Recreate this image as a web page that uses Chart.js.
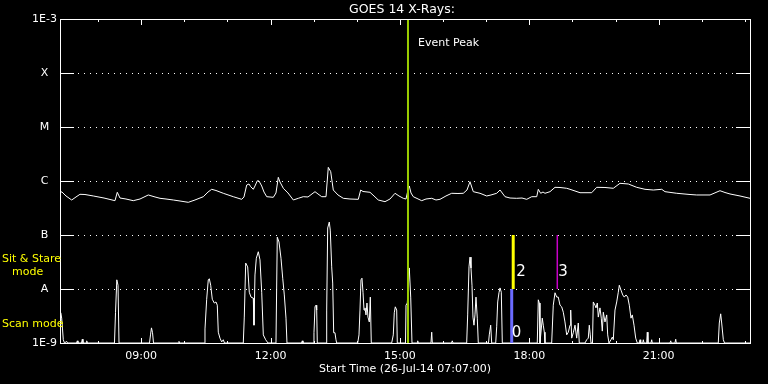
<!DOCTYPE html>
<html><head><meta charset="utf-8">
<script src="https://cdn.jsdelivr.net/npm/chart.js@4"></script>
<style>html,body{margin:0;padding:0;background:#000;}canvas{display:block;}</style>
</head><body>
<canvas id="c" width="768" height="384"></canvas>
<script>
// ---- data ----
const titleText = 'GOES 14 X-Rays:';
const startLabel = 'Start Time (26-Jul-14 07:07:00)';
const startHour = 7.1167;   // 07:07
const endHour = 23.1167;
const hourTicks = [8,9,10,11,12,13,14,15,16,17,18,19,20,21,22,23];
const labelledHours = [9,12,15,18,21];
const levelValues = [1e-9,1e-8,1e-7,1e-6,1e-5,1e-4,1e-3];
const levelLabels = ['1E-9','A','B','C','M','X','1E-3'];
const gridLevels = [1e-8,1e-7,1e-6,1e-5,1e-4];

// GOES 1-8 A flux (time in decimal hours, flux in units of 1e-7 W/m^2)
const goesTimes = [
 7.117,7.163,7.256,7.388,7.488,7.580,7.696,7.889,8.137,8.392,
 8.445,8.508,8.647,8.816,8.972,9.164,9.320,9.436,9.575,9.744,
 9.900,10.092,10.247,10.440,10.549,10.634,10.734,10.903,11.135,11.330,
 11.383,11.446,11.499,11.539,11.599,11.638,11.692,11.731,11.794,11.847,
 11.910,12.063,12.125,12.179,12.218,12.295,12.404,12.527,12.643,12.758,
 12.867,13.030,13.099,13.185,13.285,13.338,13.394,13.454,13.563,13.686,
 13.841,14.034,14.089,14.143,14.305,14.398,14.497,14.653,14.769,14.885,
 14.977,15.077,15.140,15.186,15.216,15.256,15.309,15.504,15.604,15.736,
 15.835,15.928,16.067,16.199,16.345,16.468,16.554,16.624,16.700,16.856,
 17.011,17.111,17.243,17.320,17.436,17.552,17.707,17.830,17.939,18.055,
 18.171,18.208,18.263,18.317,18.363,18.479,18.595,18.711,18.866,18.943,
 19.059,19.175,19.446,19.562,19.754,19.947,20.102,20.295,20.489,20.682,
 20.875,21.070,21.146,21.418,21.726,21.881,22.190,22.421,22.537,22.653,
 22.885,23.117];
const goesFluxE7 = [
 6.34,6.25,5.28,4.45,5.06,5.67,5.62,5.28,4.84,4.32,
 6.18,4.84,4.64,4.32,4.64,5.51,5.06,4.78,4.64,4.45,
 4.26,4.03,4.45,5.12,6.25,7.02,6.67,5.92,5.12,4.58,
 5.06,8.43,8.80,7.84,7.02,8.08,10.1,10.0,8.08,6.25,
 5.12,4.99,6.00,11.7,9.58,7.33,6.00,4.45,4.78,5.12,
 5.06,6.34,5.75,5.12,5.12,17.9,14.9,6.81,5.51,4.78,
 4.64,4.58,6.81,6.39,6.18,5.28,4.45,4.14,4.64,5.92,
 5.28,4.78,4.64,6.81,8.08,6.00,5.12,4.32,4.64,4.78,
 4.45,4.58,5.28,5.92,5.87,5.92,6.81,9.70,6.34,5.92,
 5.28,5.51,5.92,6.81,5.12,4.84,4.78,4.84,4.58,5.12,
 5.12,7.02,5.92,6.25,5.92,6.34,7.64,7.58,7.33,7.02,
 6.53,6.07,6.07,7.64,7.58,7.33,9.06,8.80,7.64,7.02,
 6.81,7.02,6.34,5.92,5.62,5.51,5.51,6.61,6.12,5.75,
 5.28,4.78];

// lower trace (instrument activity), in units where 1 = A level, 2 = B level
const lowerTimes = [
 7.121,7.133,7.156,7.175,7.193,7.221,7.272,7.291,7.499,7.518,7.534,7.615,7.634,7.650,7.720,7.736,7.754,
 8.380,8.404,8.434,8.462,8.485,
 9.192,9.215,9.238,9.262,9.285,
 9.864,9.876,9.888,
 10.467,10.479,10.518,10.555,10.579,10.611,10.648,10.695,10.734,10.764,10.787,10.826,10.866,10.903,10.931,
 11.367,11.390,11.423,11.469,11.506,11.546,11.599,11.615,11.638,11.669,11.715,11.754,11.794,11.831,11.886,11.940,
 12.125,12.155,12.195,12.241,12.281,12.318,12.357,12.380,
 12.716,12.735,12.751,
 12.990,13.006,13.030,13.053,13.069,13.083,
 13.285,13.301,13.324,13.361,13.384,13.417,13.440,13.463,13.493,13.516,13.533,
 14.020,14.050,14.073,14.096,14.119,14.143,14.166,14.189,14.212,14.235,14.258,14.289,14.312,14.335,
 14.808,14.845,14.868,14.892,14.924,14.938,
 15.128,15.140,15.170,15.198,15.216,15.249,15.279,
 15.395,15.411,15.425,
 15.719,15.736,15.750,
 16.195,16.213,16.230,
 16.547,16.570,16.601,16.624,16.647,16.670,16.693,16.716,16.739,16.763,16.793,16.816,
 17.053,17.071,17.104,17.127,
 17.220,17.243,17.266,17.296,17.320,17.350,17.373,
 18.184,18.208,18.231,18.247,18.300,18.323,18.347,18.363,
 18.518,18.555,18.595,18.634,18.671,18.711,18.750,18.787,18.826,18.866,18.903,18.943,18.959,18.982,19.019,19.059,19.098,19.135,19.158,
 19.290,19.330,19.367,19.390,19.413,19.430,
 19.464,19.483,19.522,19.545,19.576,19.599,19.638,19.668,19.692,19.715,19.754,19.794,19.817,19.847,19.893,19.924,19.947,
 19.986,20.026,20.063,20.086,20.125,20.165,20.202,20.241,20.281,20.318,20.357,20.387,20.427,20.466,20.503,
 20.550,20.566,20.582,20.629,20.643,20.659,20.721,20.735,20.751,20.821,20.837,20.851,
 21.261,21.278,21.292,21.377,21.394,21.408,
 22.381,22.405,22.437,22.460,22.498,22.526,23.117];
const lowerValues = [
 0.41,0.56,0.46,0.26,0.06,0,0.03,0,0,0.04,0,0,0.07,0,0,0.04,0,
 0,0.56,1.17,1.07,0,
 0,0.15,0.28,0.19,0,
 0,0.03,0,
 0,0.26,0.81,1.17,1.19,1.07,0.81,0.74,0.76,0.70,0.20,0.09,0.02,0.06,0,
 0,0.48,1.48,1.41,0.94,0.85,0.83,0.33,1.26,1.57,1.69,1.54,0.94,0.15,0.06,0,
 0,1.96,1.87,1.57,1.20,0.89,0.46,0,
 0,0.04,0,
 0,0.19,0.67,0.70,0.61,0,
 0,0.61,2.13,2.24,2.09,1.41,1.11,0.19,0.19,0.06,0,
 0,0.15,0.61,1.17,1.20,0.94,0.61,0.65,0.52,0.74,0.48,0.39,0.85,0,
 0,0.15,0.56,0.67,0.61,0,
 0,0.70,0.74,1.11,1.39,0.85,0,
 0,0.04,0,
 0,0.20,0,
 0,0.04,0,
 0,0.52,1.41,1.59,1.39,1.07,0.48,0.33,0.52,0.85,0.46,0,
 0,0.15,0.33,0,
 0,0.30,0.76,0.93,1.02,0.94,0,
 0,0.80,0.74,0,0.46,0.33,0.20,0,
 0,0.70,0.93,0.85,0.85,0.70,0.67,0.57,0.39,0.15,0.20,0.33,0.61,0.09,0.19,0.33,0.09,0.37,0,
 0,0.06,0.09,0.33,0.15,0,
 0,0.76,0.70,0.65,0.74,0.48,0.65,0.46,0.22,0.57,0.39,0.52,0.15,0,0.06,0.11,0.06,
 0.61,0.76,0.94,1.07,0.98,0.89,0.85,0.89,0.85,0.70,0.46,0.52,0.33,0.09,0,
 0,0.06,0,0,0.06,0,0,0.20,0,0,0.06,0,
 0,0.04,0,0,0.07,0,
 0,0.37,0.54,0.37,0.06,0,0];

// event peak and observing-mode markers
const eventPeakTime = 15.186;
const eventPeakText = 'Event Peak';
const markerNames = ['0','2','3'];
const markerTimes = [17.591, 17.626, 18.648];
const markerLow = [1e-9, 1e-8, 1e-8];
const markerHigh = [1e-8, 1e-7, 1e-7];
const modeTexts = ['Sit & Stare', 'mode', 'Scan mode'];

// ---- styles ----
const FONT = 'DejaVu Sans';
const markerColors = ['#6b6bff', '#ffff00', '#c800c8'];
const markerWidths = [3, 3, 1.5];
const markerLabelFlux = [1.53e-9, 2.07e-8, 2.07e-8];
const markerLabelDx = [0, 3, 1];
const modeTextFlux = [3.6e-8, 2.07e-8, 2.25e-9];
const modeTextX = [2, 12, 2];

const pts = (xs, ys, k) => xs.map((t, i) => ({x: t, y: ys[i] * k}));

const datasets = [];
datasets.push({data: [{x: eventPeakTime, y: 1e-9}, {x: eventPeakTime, y: 1e-3}],
  borderColor: '#9acd00', borderWidth: 2, yAxisID: 'y'});
markerTimes.forEach((t, i) => datasets.push({
  data: [{x: t, y: markerLow[i]}, {x: t, y: markerHigh[i]}],
  borderColor: markerColors[i], borderWidth: markerWidths[i], yAxisID: 'y'}));
datasets.push({data: pts(goesTimes, goesFluxE7, 1e-7), borderColor: '#ffffff', borderWidth: 1, yAxisID: 'y'});
datasets.push({data: pts(lowerTimes, lowerValues, 1), borderColor: '#ffffff', borderWidth: 1, yAxisID: 'y2'});

const framePlugin = {
  id: 'frame',
  beforeDatasetsDraw(chart) {
    const {ctx, chartArea: a, scales: {y}} = chart;
    ctx.save();
    ctx.strokeStyle = '#ffffff';
    ctx.lineWidth = 1;
    ctx.setLineDash([1, 5]);
    gridLevels.forEach(v => {
      const py = Math.round(y.getPixelForValue(v)) + 0.5;
      ctx.beginPath(); ctx.moveTo(a.left + 18, py); ctx.lineTo(a.right - 14, py); ctx.stroke();
    });
    ctx.restore();
  },
  afterDraw(chart) {
    const {ctx, chartArea: a, scales: {x, y}} = chart;
    ctx.save();
    ctx.strokeStyle = '#ffffff';
    ctx.lineWidth = 1;
    ctx.strokeRect(a.left + 0.5, a.top + 0.5, a.right - a.left, a.bottom - a.top);
    ctx.beginPath();
    levelValues.forEach(v => {
      const py = Math.round(y.getPixelForValue(v)) + 0.5;
      ctx.moveTo(a.left, py); ctx.lineTo(a.left + 14, py);
      ctx.moveTo(a.right - 14, py); ctx.lineTo(a.right, py);
    });
    hourTicks.forEach(h => {
      const px = Math.round(x.getPixelForValue(h)) + 0.5;
      const len = labelledHours.includes(h) ? 6 : 3;
      ctx.moveTo(px, a.top); ctx.lineTo(px, a.top + len);
      ctx.moveTo(px, a.bottom + 1); ctx.lineTo(px, a.bottom + 1 - len);
    });
    ctx.stroke();

    ctx.fillStyle = '#ffffff';
    ctx.textBaseline = 'middle';
    ctx.textAlign = 'center';
    ctx.font = '12.5px ' + FONT;
    ctx.fillText(titleText, (a.left + a.right) / 2 - 3, 10);
    ctx.font = '11px ' + FONT;
    ctx.fillText(startLabel, (a.left + a.right) / 2, 369);
    ctx.textAlign = 'left';
    ctx.fillText(eventPeakText, x.getPixelForValue(eventPeakTime) + 10, y.getPixelForValue(3.6e-4));
    ctx.font = '15px ' + FONT;
    markerNames.forEach((n, i) => {
      ctx.fillText(n, x.getPixelForValue(markerTimes[i]) + markerLabelDx[i], y.getPixelForValue(markerLabelFlux[i]));
    });
    ctx.fillStyle = '#ffff00';
    ctx.font = '11px ' + FONT;
    modeTexts.forEach((t, i) => ctx.fillText(t, modeTextX[i], y.getPixelForValue(modeTextFlux[i])));
    ctx.restore();
  }
};

new Chart(document.getElementById('c'), {
  type: 'line',
  data: {datasets},
  plugins: [framePlugin],
  options: {
    responsive: false, devicePixelRatio: 1, animation: false,
    layout: {padding: {left: 0, right: 18, top: 19, bottom: 0}},
    plugins: {legend: {display: false}, tooltip: {enabled: false}, title: {display: false}},
    elements: {point: {radius: 0}, line: {tension: 0, borderCapStyle: 'butt', fill: false}},
    scales: {
      x: {
        type: 'linear', position: 'bottom', min: startHour, max: endHour,
        grid: {display: false, drawTicks: false}, border: {display: false},
        afterBuildTicks: s => { s.ticks = labelledHours.map(v => ({value: v})); },
        afterFit: s => { s.height = 41; },
        ticks: {color: '#ffffff', font: {family: FONT, size: 11}, padding: 7,
          maxRotation: 0, autoSkip: false,
          callback: v => String(v).padStart(2, '0') + ':00'}
      },
      y: {
        type: 'logarithmic', position: 'left', min: 1e-9, max: 1e-3,
        grid: {display: false, drawTicks: false}, border: {display: false},
        afterBuildTicks: s => { s.ticks = levelValues.map(v => ({value: v})); },
        afterFit: s => { s.width = 60; },
        ticks: {color: '#ffffff', font: {family: FONT, size: 11}, padding: 3,
          crossAlign: 'center', autoSkip: false,
          callback: (v, i) => levelLabels[i]}
      },
      y2: {type: 'linear', display: false, min: 0, max: 6}
    }
  }
});
</script>
</body></html>
